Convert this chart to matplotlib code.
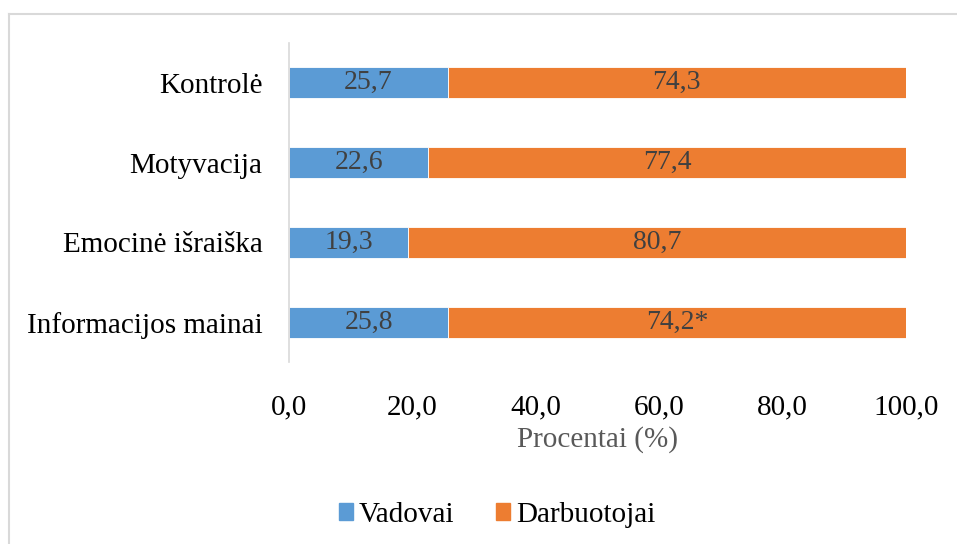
import matplotlib
matplotlib.use('Agg')
import matplotlib.pyplot as plt
from matplotlib.lines import Line2D

plt.rcParams['font.family'] = ['Liberation Serif', 'DejaVu Serif']

# data
categories = ['Informacijos mainai', 'Emocinė išraiška', 'Motyvacija', 'Kontrolė']
vadovai = [25.8, 19.3, 22.6, 25.7]
darbuotojai = [74.2, 80.7, 77.4, 74.3]
darb_labels = ['74,2*', '80,7', '77,4', '74,3']
series_names = ['Vadovai', 'Darbuotojai']
xticks = [0, 20, 40, 60, 80, 100]

blue = '#5B9BD5'
orange = '#ED7D31'

fig = plt.figure(figsize=(9.57, 5.44), dpi=100)
ax = fig.add_axes([289 / 957, 1 - 362 / 544, (906 - 289) / 957, (362 - 43) / 544])

ypos = range(len(categories))
ax.barh(ypos, vadovai, height=0.39, color=blue, edgecolor='#FFFFFF', linewidth=0.6,
        label=series_names[0])
ax.barh(ypos, darbuotojai, left=vadovai, height=0.39, color=orange, edgecolor='#FFFFFF',
        linewidth=0.6, label=series_names[1])

for i, (v, d) in enumerate(zip(vadovai, darbuotojai)):
    ax.text(v / 2, i, f'{v:.1f}'.replace('.', ','), ha='center', va='center',
            fontsize=20, color='#404040')
    ax.text(v + d / 2, i, darb_labels[i], ha='center', va='center',
            fontsize=20, color='#404040')

ax.set_xlim(0, 100)
ax.set_ylim(-0.5, 3.5)
ax.set_yticks(list(ypos))
ax.set_yticklabels(categories, fontsize=21, color='black')
ax.set_xticks(xticks)
ax.set_xticklabels([f'{t:.1f}'.replace('.', ',') for t in xticks], fontsize=21, color='black')
ax.tick_params(axis='both', length=0)
ax.tick_params(axis='y', pad=19)
ax.tick_params(axis='x', pad=23)
for s in ['top', 'right', 'bottom']:
    ax.spines[s].set_visible(False)
ax.spines['left'].set_color('#D9D9D9')
ax.spines['left'].set_linewidth(1.2)

fig.text((289 + 906) / 2 / 957, 1 - 440 / 544, 'Procentai (%)', ha='center', va='center',
         fontsize=21, color='#595959')

handles = [plt.Rectangle((0, 0), 1, 1, color=blue), plt.Rectangle((0, 0), 1, 1, color=orange)]
fig.legend(handles, series_names, loc='center', bbox_to_anchor=(497 / 957, 1 - 515 / 544), ncol=2,
           frameon=False, fontsize=21, handlelength=0.5, handleheight=0.5,
           handletextpad=0.2, columnspacing=1.4)

# chart border (top and left visible)
fig.add_artist(Line2D([8.5 / 957, 8.5 / 957], [0, 1 - 14 / 544], transform=fig.transFigure,
                      color='#D9D9D9', linewidth=1.5))
fig.add_artist(Line2D([8.5 / 957, 1], [1 - 14 / 544, 1 - 14 / 544], transform=fig.transFigure,
                      color='#D9D9D9', linewidth=1.5))

fig.savefig('out.png', dpi=100)
